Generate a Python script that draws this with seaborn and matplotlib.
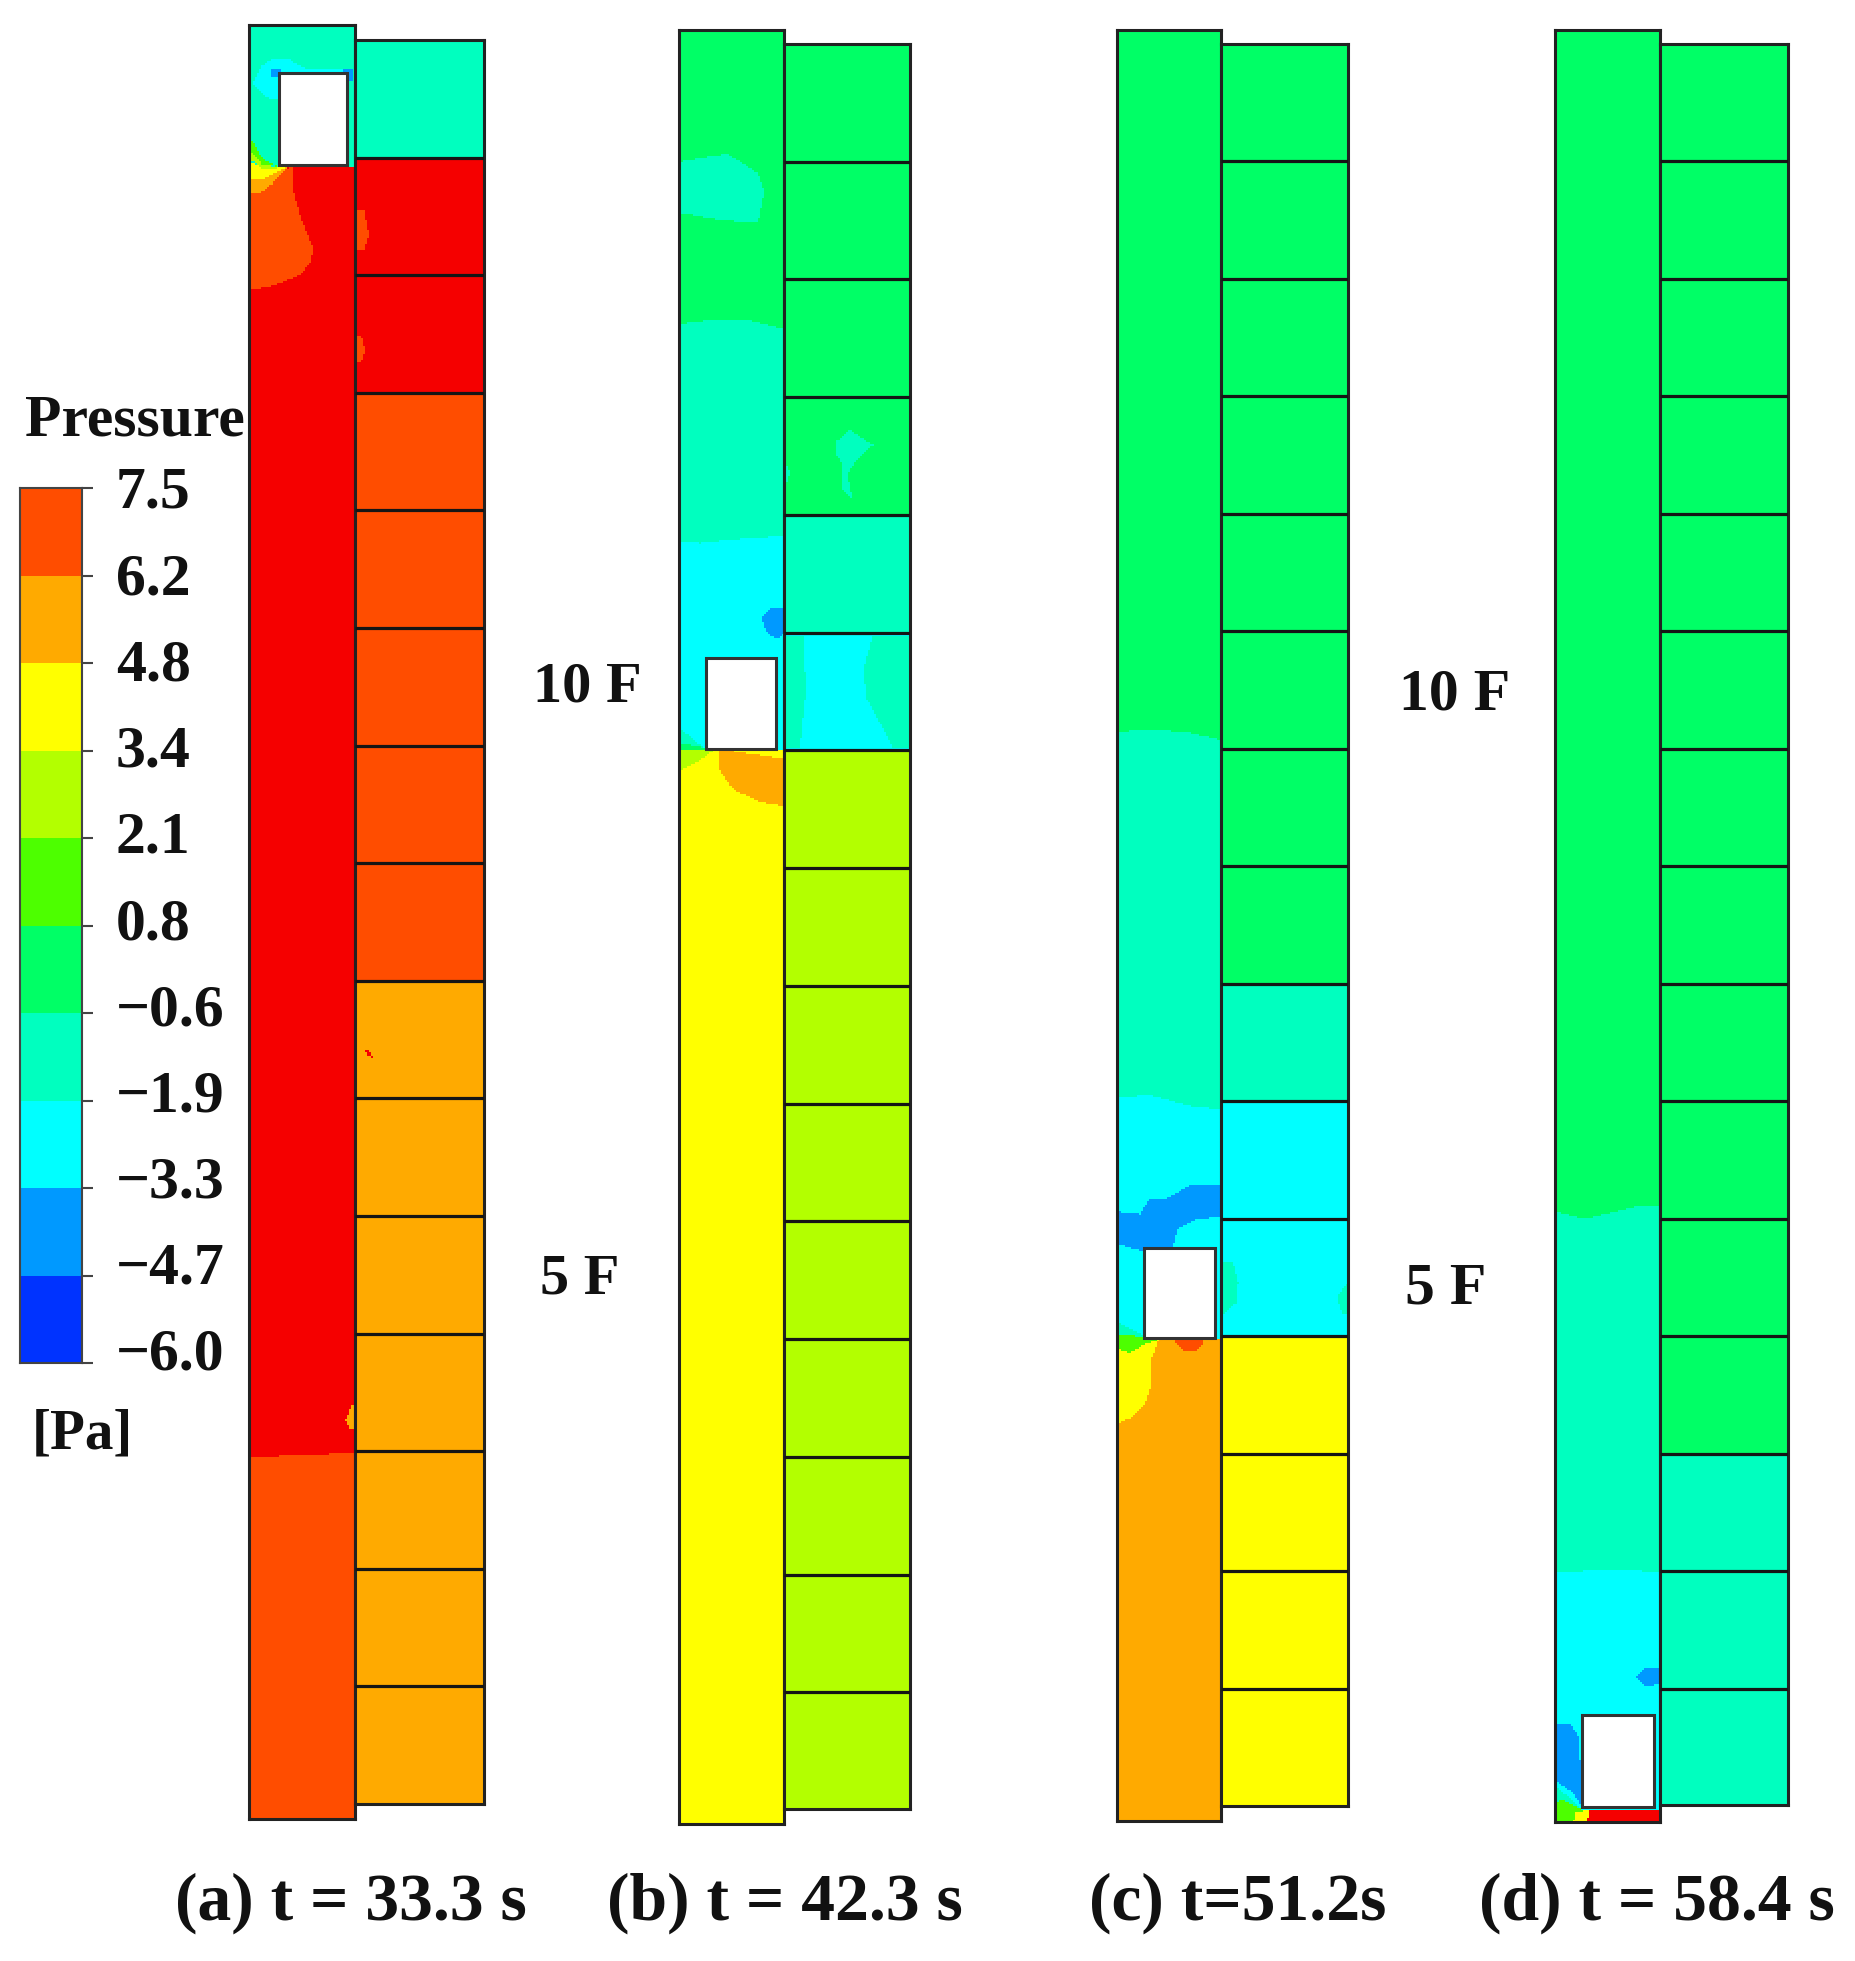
import numpy as np
import matplotlib
matplotlib.use("Agg")
import matplotlib.pyplot as plt
from matplotlib.colors import ListedColormap, BoundaryNorm
from matplotlib.patches import Rectangle
from matplotlib.path import Path
import seaborn as sns

sns.set_theme(style="white")
plt.rcParams["font.family"] = ["Liberation Serif", "DejaVu Serif"]
plt.rcParams["font.weight"] = "bold"

W, H = 1855, 1961
CELL = 2

# Pressure classes (Pa), colour bar order bottom to top, plus the over-range red
boundaries = [-6.0, -4.7, -3.3, -1.9, -0.6, 0.8, 2.1, 3.4, 4.8, 6.2, 7.5, 9.0]
class_colors = ["#0033FF", "#0099FF", "#00FFFF", "#00FFBF", "#00FF66", "#4DFF00",
                "#B3FF00", "#FFFF00", "#FFAA00", "#FF4D00", "#F50000"]
tick_labels = ["7.5", "6.2", "4.8", "3.4", "2.1", "0.8", "\u22120.6", "\u22121.9", "\u22123.3", "\u22124.7", "\u22126.0"]
bar_values = [6.85, 5.5, 4.1, 2.75, 1.45, 0.1, -1.25, -2.6, -4.0, -5.35]
B1, B2, C, T, G, L, Y2, Y, O, R, RED = -5.35, -4.0, -2.6, -1.25, 0.1, 1.45, 2.75, 4.1, 5.5, 6.85, 8.0

captions = ["(a) t = 33.3 s", "(b) t = 42.3 s", "(c) t=51.2s", "(d) t = 58.4 s"]

# Room pressure per floor, top floor first
rooms_a = [T, RED, RED, R, R, R, R, R, O, O, O, O, O, O, O]
rooms_b = [G, G, G, G, T, C, Y2, Y2, Y2, Y2, Y2, Y2, Y2, Y2, Y2]
rooms_c = [G, G, G, G, G, G, G, G, T, C, C, Y, Y, Y, Y]
rooms_d = [G, G, G, G, G, G, G, G, G, G, G, G, T, T, T]

# Contour regions: (pressure, outline in picture pixels), painted in order
shaft_a = [
    (T, [(240, 20), (360, 20), (360, 168), (240, 168)]),
    (RED, [(240, 166), (360, 166), (360, 1453), (300, 1455), (240, 1458)]),
    (R, [(240, 1458), (300, 1455), (360, 1453), (360, 1830), (240, 1830)]),
    (R, [(240, 195), (270, 180), (292, 166), (293, 190), (300, 215), (313, 248), (311, 262), (300, 275), (275, 285), (250, 290), (240, 290)]),
    (O, [(240, 178), (275, 172), (288, 166), (272, 184), (260, 193), (240, 195)]),
    (Y, [(240, 155), (262, 168), (288, 166), (265, 178), (240, 180)]),
    (Y2, [(249, 150), (262, 162), (276, 168), (262, 168), (249, 158)]),
    (L, [(249, 135), (262, 158), (276, 166), (262, 164), (249, 150)]),
    (C, [(253, 83), (262, 66), (273, 58), (290, 60), (305, 68), (350, 68), (350, 73), (279, 73), (279, 100), (265, 97)]),
    (B2, [(272, 68), (281, 68), (281, 76), (272, 76)]),
    (B2, [(344, 68), (353, 68), (353, 80), (344, 80)]),
    (O, [(346, 1420), (352, 1404), (360, 1404), (360, 1428), (350, 1428)]),
]
rooms_a_blobs = [
    (R, [(350, 210), (364, 210), (369, 235), (364, 250), (350, 250)]),
    (R, [(350, 335), (361, 335), (365, 350), (361, 362), (350, 362)]),
    (RED, [(364, 1049), (369, 1050), (373, 1058), (368, 1056)]),
]
shaft_b = [
    (G, [(670, 20), (800, 20), (800, 333), (750, 321), (720, 319), (670, 325)]),
    (T, [(670, 325), (720, 319), (750, 321), (800, 333), (800, 535), (750, 538), (700, 543), (670, 541)]),
    (C, [(670, 541), (700, 543), (750, 538), (800, 535), (800, 752), (670, 752)]),
    (Y, [(670, 749), (800, 749), (800, 1840), (670, 1840)]),
    (T, [(670, 163), (727, 154), (757, 173), (763, 192), (757, 223), (720, 220), (670, 211)]),
    (B2, [(760, 618), (770, 608), (790, 608), (790, 627), (777, 639), (767, 634)]),
    (O, [(720, 749), (790, 760), (790, 807), (760, 802), (733, 790), (718, 768)]),
    (Y2, [(670, 749), (715, 749), (700, 760), (670, 776)]),
    (T, [(670, 720), (705, 749), (670, 749)]),
    (G, [(670, 741), (712, 749), (670, 751)]),
]
rooms_b_blobs = [
    (T, [(837, 441), (850, 430), (873, 445), (857, 460), (847, 474), (853, 500), (842, 488), (843, 464), (837, 455)]),
    (T, [(775, 636), (803, 636), (806, 690), (800, 747), (775, 747)]),
    (T, [(873, 636), (920, 636), (920, 747), (893, 747), (867, 699), (863, 670)]),
    (T, [(775, 465), (787, 465), (790, 473), (787, 481), (775, 481)]),
]
shaft_c = [
    (G, [(1110, 20), (1235, 20), (1235, 743), (1190, 733), (1150, 729), (1110, 733)]),
    (T, [(1110, 733), (1150, 729), (1190, 733), (1235, 743), (1235, 1110), (1190, 1105), (1150, 1094), (1110, 1097)]),
    (C, [(1110, 1097), (1150, 1094), (1190, 1105), (1235, 1110), (1235, 1345), (1110, 1345)]),
    (B2, [(1110, 1210), (1140, 1213), (1150, 1198), (1167, 1197), (1193, 1183), (1230, 1183), (1230, 1215), (1197, 1218), (1178, 1227), (1172, 1250), (1145, 1250), (1135, 1248), (1110, 1240)]),
    (O, [(1110, 1337), (1235, 1337), (1235, 1840), (1110, 1840)]),
    (Y, [(1110, 1342), (1160, 1335), (1150, 1362), (1150, 1387), (1145, 1402), (1130, 1417), (1110, 1425)]),
    (T, [(1110, 1318), (1135, 1330), (1155, 1339), (1110, 1348)]),
    (L, [(1110, 1332), (1135, 1335), (1157, 1339), (1145, 1343), (1130, 1352), (1110, 1345)]),
    (R, [(1176, 1335), (1203, 1335), (1203, 1342), (1196, 1349), (1183, 1349), (1176, 1342)]),
]
rooms_c_blobs = [
    (T, [(1211, 1261), (1233, 1261), (1238, 1283), (1236, 1303), (1224, 1313), (1211, 1313)]),
    (T, [(1357, 1273), (1342, 1288), (1336, 1298), (1341, 1313), (1357, 1313)]),
]
shaft_d = [
    (G, [(1545, 20), (1680, 20), (1680, 1207), (1640, 1205), (1610, 1213), (1585, 1219), (1545, 1209)]),
    (T, [(1545, 1209), (1585, 1219), (1610, 1213), (1640, 1205), (1680, 1207), (1680, 1573), (1620, 1570), (1545, 1572)]),
    (C, [(1545, 1572), (1620, 1570), (1680, 1573), (1680, 1840), (1545, 1840)]),
    (B2, [(1636, 1677), (1645, 1667), (1670, 1670), (1670, 1680), (1645, 1687)]),
    (B2, [(1545, 1723), (1570, 1723), (1579, 1737), (1582, 1807), (1573, 1793), (1545, 1773)]),
    (T, [(1553, 1785), (1568, 1796), (1580, 1808), (1553, 1808)]),
    (L, [(1545, 1805), (1563, 1800), (1585, 1811), (1576, 1835), (1545, 1835)]),
    (Y, [(1576, 1812), (1592, 1810), (1586, 1835), (1570, 1835)]),
    (RED, [(1590, 1809), (1680, 1809), (1680, 1835), (1584, 1835)]),
]

cmap = ListedColormap(class_colors)
norm = BoundaryNorm(boundaries, cmap.N)


def make_axes(x0, y0, x1, y1):
    return plt.gcf().add_axes([x0 / W, 1 - y1 / H, (x1 - x0) / W, (y1 - y0) / H])


def grid(box):
    x0, y0, x1, y1 = box
    xs = np.arange(x0 + CELL / 2, x1, CELL)
    ys = np.arange(y0 + CELL / 2, y1, CELL)
    return np.meshgrid(xs, ys)


def paint(field, gx, gy, regions):
    pts = np.column_stack([gx.ravel(), gy.ravel()])
    for value, outline in regions:
        inside = Path(outline).contains_points(pts).reshape(field.shape)
        field[inside] = value
    return field


def draw(box, field, mask=None):
    ax = make_axes(*box)
    sns.heatmap(field, ax=ax, cmap=cmap, norm=norm, cbar=False, mask=mask,
                xticklabels=False, yticklabels=False, rasterized=True)
    for s in ax.spines.values():
        s.set_visible(True)
        s.set_linewidth(2.2)
        s.set_color("#222222")
    return ax


def panel(shaft_box, room_box, car_box, shaft_regions, room_values, room_blobs):
    gx, gy = grid(shaft_box)
    field = paint(np.full(gx.shape, G), gx, gy, shaft_regions)
    mask = (gx > car_box[0]) & (gx < car_box[2]) & (gy > car_box[1]) & (gy < car_box[3])
    ax = draw(shaft_box, field, mask)
    ax.add_patch(Rectangle(((car_box[0] - shaft_box[0]) / CELL, (car_box[1] - shaft_box[1]) / CELL),
                           (car_box[2] - car_box[0]) / CELL, (car_box[3] - car_box[1]) / CELL,
                           fill=False, ec="#333333", lw=2.2, zorder=5))

    gx, gy = grid(room_box)
    floor_h = (room_box[3] - room_box[1]) / len(room_values)
    idx = np.clip(((gy - room_box[1]) / floor_h).astype(int), 0, len(room_values) - 1)
    field = paint(np.asarray(room_values, float)[idx], gx, gy, room_blobs)
    ax = draw(room_box, field)
    ax.hlines(np.arange(1, len(room_values)) * floor_h / CELL, 0, field.shape[1],
              colors="#151515", lw=2.3, zorder=5)


fig = plt.figure(figsize=(W / 100, H / 100), dpi=100, facecolor="white")

panel((249, 25, 355, 1819), (355, 40, 484, 1804), (279, 73, 347, 165), shaft_a, rooms_a, rooms_a_blobs)
panel((679, 30, 784, 1824), (784, 44, 910, 1809), (706, 658, 775, 749), shaft_b, rooms_b, rooms_b_blobs)
panel((1117, 30, 1221, 1821), (1221, 44, 1348, 1806), (1144, 1247, 1215, 1337), shaft_c, rooms_c, rooms_c_blobs)
panel((1555, 30, 1660, 1822), (1660, 44, 1788, 1805), (1582, 1715, 1653, 1807), shaft_d, rooms_d, [])

# Colour bar
cax = make_axes(20, 488, 82, 1363)
sns.heatmap(np.array(bar_values).reshape(-1, 1), ax=cax, cmap=cmap, norm=norm, cbar=False,
            xticklabels=False, yticklabels=False)
for s in cax.spines.values():
    s.set_visible(True)
    s.set_linewidth(1.5)
    s.set_color("#444444")
cax.yaxis.tick_right()
cax.set_yticks(np.arange(len(tick_labels)))
cax.set_yticklabels([])
cax.tick_params(axis="y", right=True, left=False, length=8, width=1.5, color="#444444")


def label(x, y, text, size=40, ha="center"):
    fig.text(x / W, 1 - y / H, text, fontsize=size, fontweight="bold", ha=ha, va="center", color="#111111")


# The printed values sit slightly tighter than the tick marks
for y, text in zip(np.linspace(494, 1356, len(tick_labels)), tick_labels):
    label(116, y, text, 43, ha="left")

label(135, 422, "Pressure", 43)
label(82, 1435, "[Pa]", 41)
label(587, 687, "10 F", 42)
label(580, 1280, "5 F", 42)
label(1455, 696, "10 F", 43)
label(1446, 1289, "5 F", 43)
for cx, text in zip([351, 785, 1238, 1657], captions):
    label(cx, 1903, text, 48.7)

fig.savefig("out.png", dpi=100, facecolor="white")
